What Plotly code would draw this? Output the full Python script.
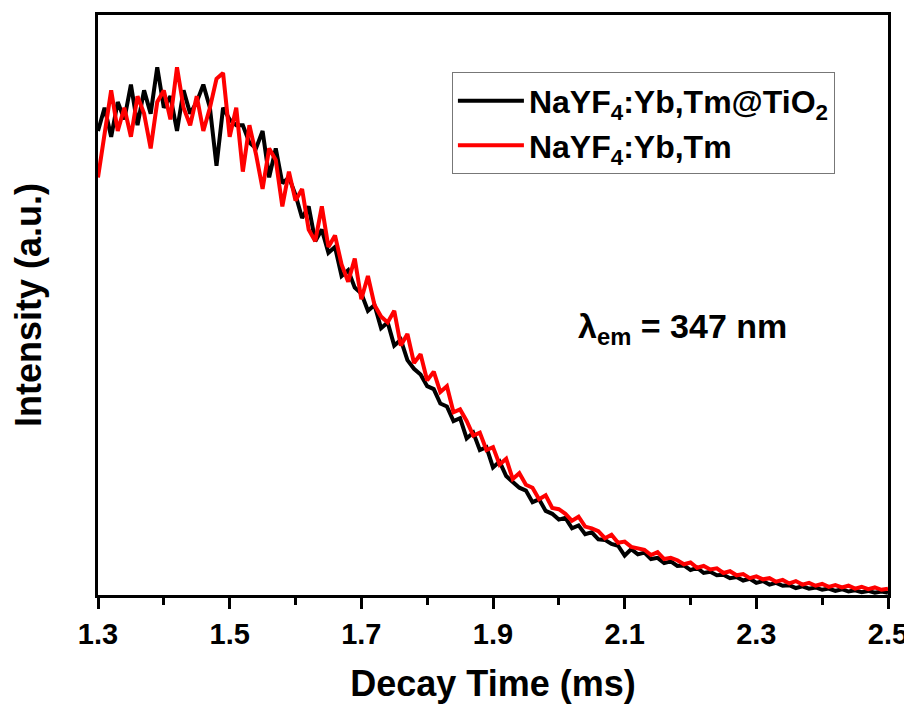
import plotly.graph_objects as go

# Decay time (ms), sampled every 0.01 ms from 1.30 to 2.50
time_ms = [round(1.30 + 0.01 * i, 2) for i in range(121)]

# NaYF4:Yb,Tm@TiO2 (black), intensity (a.u.)
intensity_tio2 = [
    0.80, 0.84, 0.79, 0.85, 0.82, 0.88, 0.81, 0.87, 0.83, 0.91,
    0.84, 0.86, 0.80, 0.87, 0.83, 0.85, 0.88, 0.84, 0.74, 0.84,
    0.82, 0.81, 0.81, 0.78, 0.77, 0.80, 0.72, 0.77, 0.71, 0.72,
    0.69, 0.65, 0.67, 0.61, 0.63, 0.59, 0.60, 0.55, 0.56, 0.53,
    0.52, 0.49, 0.50, 0.46, 0.47, 0.43, 0.44, 0.405, 0.39, 0.38,
    0.36, 0.355, 0.33, 0.325, 0.30, 0.305, 0.27, 0.28, 0.25, 0.255,
    0.22, 0.23, 0.205, 0.195, 0.185, 0.18, 0.16, 0.165, 0.145, 0.14,
    0.13, 0.133, 0.115, 0.12, 0.105, 0.108, 0.096, 0.095, 0.088, 0.085,
    0.068, 0.079, 0.07, 0.073, 0.062, 0.064, 0.055, 0.058, 0.05, 0.051,
    0.043, 0.047, 0.038, 0.04, 0.034, 0.035, 0.029, 0.031, 0.025, 0.028,
    0.021, 0.024, 0.018, 0.021, 0.016, 0.017, 0.012, 0.015, 0.011, 0.013,
    0.009, 0.011, 0.007, 0.01, 0.006, 0.008, 0.005, 0.007, 0.004, 0.006,
    0.004,
]

# NaYF4:Yb,Tm (red), intensity (a.u.)
intensity_bare = [
    0.72, 0.80, 0.87, 0.80, 0.84, 0.79, 0.86, 0.83, 0.77, 0.85,
    0.87, 0.82, 0.91, 0.84, 0.81, 0.86, 0.80, 0.84, 0.89, 0.90,
    0.79, 0.84, 0.73, 0.81, 0.76, 0.70, 0.77, 0.75, 0.67, 0.73,
    0.68, 0.70, 0.63, 0.61, 0.67, 0.60, 0.62, 0.57, 0.54, 0.58,
    0.51, 0.55, 0.50, 0.48, 0.47, 0.49, 0.43, 0.45, 0.40, 0.415,
    0.37, 0.385, 0.35, 0.36, 0.315, 0.32, 0.30, 0.275, 0.28, 0.25,
    0.255, 0.225, 0.235, 0.20, 0.21, 0.19, 0.185, 0.165, 0.172, 0.15,
    0.148, 0.14, 0.128, 0.135, 0.118, 0.115, 0.11, 0.098, 0.104, 0.09,
    0.092, 0.083, 0.08, 0.078, 0.069, 0.074, 0.062, 0.064, 0.06, 0.053,
    0.056, 0.047, 0.05, 0.044, 0.046, 0.038, 0.041, 0.034, 0.036, 0.029,
    0.032, 0.027, 0.029, 0.023, 0.026, 0.02, 0.024, 0.018, 0.021, 0.016,
    0.019, 0.014, 0.017, 0.013, 0.016, 0.011, 0.014, 0.01, 0.013, 0.009,
    0.011,
]

x_tick_vals = [1.3, 1.5, 1.7, 1.9, 2.1, 2.3, 2.5]
x_tick_text = ["1.3", "1.5", "1.7", "1.9", "2.1", "2.3", "2.5"]
x_minor_vals = [1.4, 1.6, 1.8, 2.0, 2.2, 2.4]

FONT = "Liberation Sans, Arial, sans-serif"

fig = go.Figure()
fig.add_trace(go.Scatter(
    x=time_ms, y=intensity_tio2, mode="lines",
    name="NaYF<sub>4</sub>:Yb,Tm@TiO<sub>2</sub>",
    line=dict(color="black", width=4),
))
fig.add_trace(go.Scatter(
    x=time_ms, y=intensity_bare, mode="lines",
    name="NaYF<sub>4</sub>:Yb,Tm",
    line=dict(color="#ff0000", width=4),
))

# the page body adds an 8 px margin, so the figure is 8 px smaller each way
fig.update_layout(
    width=904, height=701,
    margin=dict(l=90, r=24, t=7, b=114),
    paper_bgcolor="white", plot_bgcolor="white",
    font=dict(family=FONT, color="black", size=28, weight="bold"),
    showlegend=True,
    legend=dict(
        x=0.448, y=0.901, xanchor="left", yanchor="top",
        bordercolor="#777777", borderwidth=1, bgcolor="white",
        font=dict(family=FONT, size=32, weight="bold", color="black"),
        itemwidth=66, tracegroupgap=0,
    ),
    annotations=[dict(
        text="λ<sub>em</sub> = 347 nm", x=0.7405, y=0.46,
        xref="paper", yref="paper", xanchor="center", yanchor="middle",
        showarrow=False,
        font=dict(family=FONT, size=34, weight="bold", color="black"),
    )],
)

fig.update_xaxes(
    range=[1.3, 2.5], tickvals=x_tick_vals, ticktext=x_tick_text,
    automargin=False,
    showline=True, mirror=True, linecolor="black", linewidth=2.5,
    ticks="outside", ticklen=11, tickwidth=2.5, tickcolor="black",
    minor=dict(tickvals=x_minor_vals, ticks="outside",
               ticklen=7, tickwidth=2.5, tickcolor="black"),
    showgrid=False, zeroline=False,
    tickfont=dict(family=FONT, size=29, weight="bold"),
    title=dict(text="Decay Time (ms)", standoff=23,
               font=dict(family=FONT, size=36, weight="bold")),
)
fig.update_yaxes(
    range=[0, 1.0], showticklabels=False, ticks="",
    automargin=False,
    showline=True, mirror=True, linecolor="black", linewidth=2.5,
    showgrid=False, zeroline=False,
    title=dict(text="Intensity (a.u.)", standoff=44,
               font=dict(family=FONT, size=36, weight="bold")),
)

fig.write_html("out.html")
